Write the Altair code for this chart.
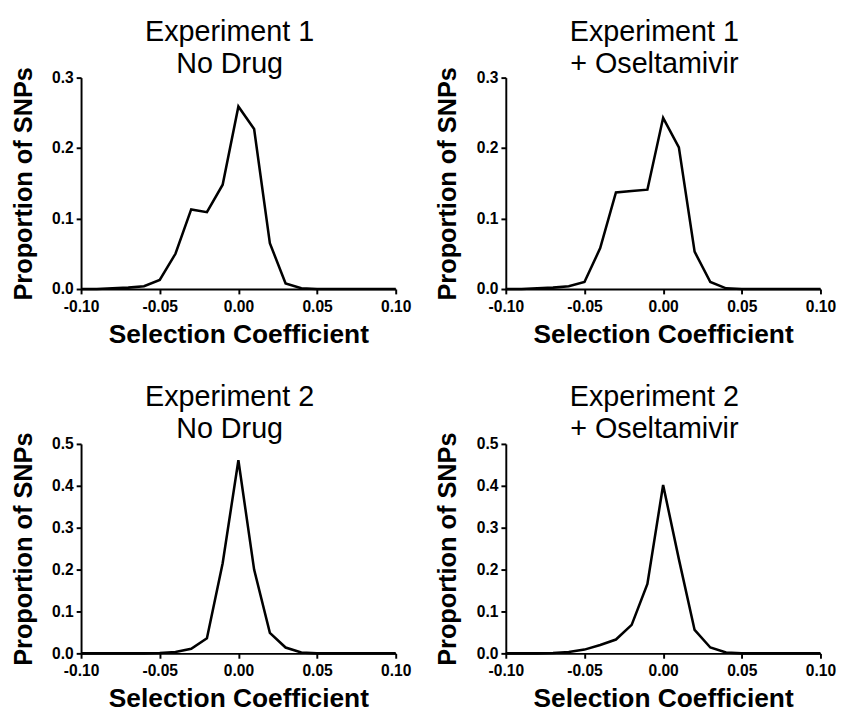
import altair as alt
import pandas as pd

x_values = [-0.10, -0.09, -0.08, -0.07, -0.06, -0.05, -0.04, -0.03, -0.02, -0.01,
            0.00, 0.01, 0.02, 0.03, 0.04, 0.05, 0.06, 0.07, 0.08, 0.09, 0.10]

exp1_no_drug = [0.000, 0.000, 0.001, 0.002, 0.004, 0.013, 0.050, 0.113, 0.109, 0.148,
                0.259, 0.227, 0.065, 0.008, 0.001, 0.000, 0.000, 0.000, 0.000, 0.000, 0.000]
exp1_osel = [0.000, 0.000, 0.001, 0.002, 0.004, 0.010, 0.058, 0.137, 0.139, 0.141,
             0.243, 0.201, 0.053, 0.010, 0.001, 0.000, 0.000, 0.000, 0.000, 0.000, 0.000]
exp2_no_drug = [0.000, 0.000, 0.000, 0.000, 0.000, 0.001, 0.003, 0.011, 0.036, 0.215,
                0.461, 0.200, 0.049, 0.014, 0.002, 0.000, 0.000, 0.000, 0.000, 0.000, 0.000]
exp2_osel = [0.000, 0.000, 0.000, 0.001, 0.003, 0.009, 0.020, 0.033, 0.068, 0.166,
             0.402, 0.225, 0.056, 0.014, 0.002, 0.000, 0.000, 0.000, 0.000, 0.000, 0.000]

titles = [["Experiment 1", "No Drug"], ["Experiment 1", "+ Oseltamivir"],
          ["Experiment 2", "No Drug"], ["Experiment 2", "+ Oseltamivir"]]
y_max = [0.3, 0.3, 0.5, 0.5]
x_ticks = [-0.10, -0.05, 0.00, 0.05, 0.10]

FONT = "Liberation Sans"


def panel(yvals, title, ymax, height):
    df = pd.DataFrame({"x": x_values, "y": yvals})
    yticks = [round(i * 0.1, 1) for i in range(int(round(ymax * 10)) + 1)]
    return alt.Chart(df).mark_line(color="black", strokeWidth=2.6).encode(
        x=alt.X("x:Q", scale=alt.Scale(domain=[-0.10, 0.10], nice=False, zero=False),
                axis=alt.Axis(values=x_ticks, title="Selection Coefficient",
                              titleFontSize=27,
                              labelExpr="datum.value < -0.0001 ? '-' + format(-datum.value, '.2f') : format(abs(datum.value), '.2f')",
                              labelFlush=False, labelOverlap=False,
                              titlePadding=8, labelPadding=5)),
        y=alt.Y("y:Q", scale=alt.Scale(domain=[0, ymax], nice=False),
                axis=alt.Axis(values=yticks, format=".1f", title="Proportion of SNPs",
                              labelFlush=False, labelOverlap=False,
                              titlePadding=16, labelPadding=3)),
    ).properties(
        width=323, height=height,
        title=alt.TitleParams(text=title, fontSize=29.5, font=FONT, fontWeight="normal",
                              color="black", lineHeight=33, offset=-13, dx=-9,
                              frame="group"),
    )


c1 = panel(exp1_no_drug, titles[0], y_max[0], 217)
c2 = panel(exp1_osel, titles[1], y_max[1], 217)
c3 = panel(exp2_no_drug, titles[2], y_max[2], 215)
c4 = panel(exp2_osel, titles[3], y_max[3], 215)

chart = alt.vconcat(
    alt.hconcat(c1, c2, spacing=24),
    alt.hconcat(c3, c4, spacing=24),
    spacing=36,
).properties(
    padding={"left": 2, "top": 0, "right": 2, "bottom": 2}
).configure_view(stroke=None).configure_axis(
    grid=False,
    domainColor="black", domainWidth=2,
    tickColor="black", tickWidth=2, tickSize=5,
    labelFont=FONT, labelFontSize=16, labelFontWeight="bold", labelColor="black",
    titleFont=FONT, titleFontSize=26, titleFontWeight="bold", titleColor="black",
)

chart.save("out.html", embed_options={"renderer": "svg", "actions": False})
